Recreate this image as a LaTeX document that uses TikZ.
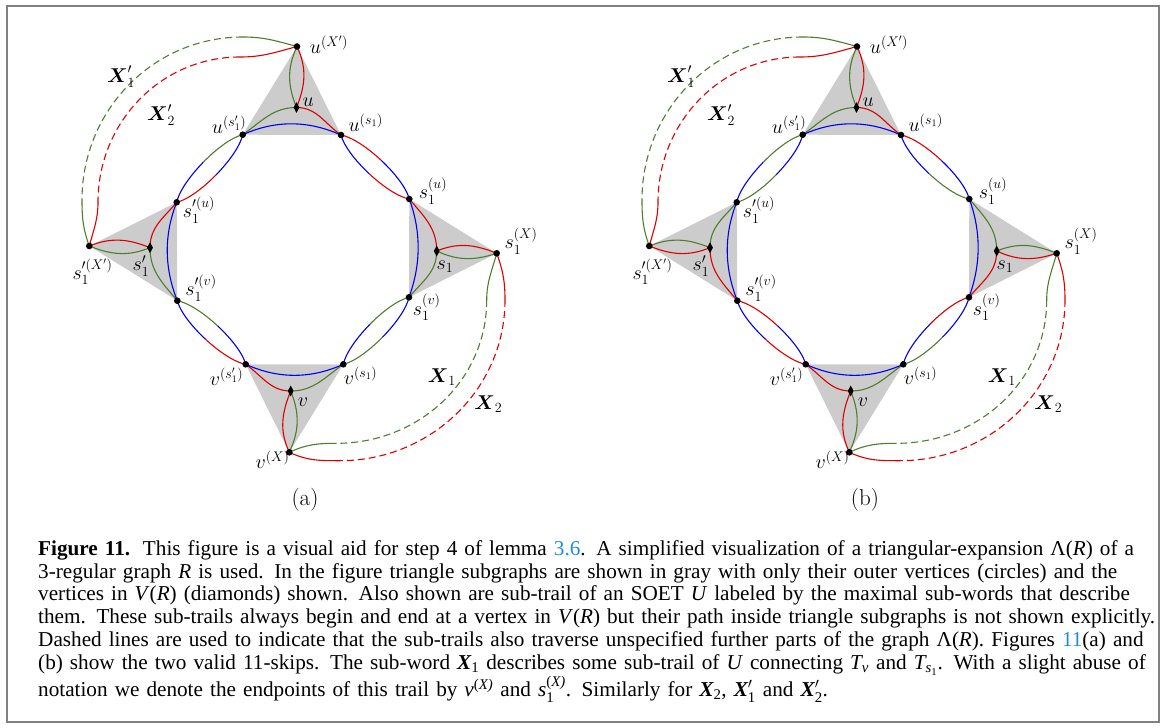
\RequirePackage{fix-cm}
\documentclass[tikz,border=0pt]{standalone}
\usepackage{amsmath}
\usepackage[no-math]{fontspec}
\usetikzlibrary{calc,shapes.geometric}
\newfontfamily\capfont{Liberation Serif}
\definecolor{tred}{RGB}{220,0,0}
\definecolor{tgreen}{RGB}{80,125,45}
\definecolor{tblue}{RGB}{0,0,235}
\definecolor{tgray}{RGB}{204,204,204}
\definecolor{linkblue}{RGB}{30,140,220}
\definecolor{framegray}{RGB}{128,128,128}
\pgfdeclarelayer{bg}
\pgfsetlayers{bg,main}
\tikzset{
  vtx/.style={circle,fill=black,inner sep=0pt,minimum size=6.6pt},
  dia/.style={diamond,fill=black,inner sep=0pt,minimum width=6pt,minimum height=11pt},
  trail/.style={line width=1.1pt},
  dsh/.style={dash pattern=on 7pt off 4pt},
  lbl/.style={font=\fontsize{20}{24}\selectfont,inner sep=0pt},
}
\newcommand\lenspath[5]{%
  \coordinate (lA) at ($(#1.center)!0.2!(#2.center)!12pt!#3:(#2.center)$);
  \coordinate (lB) at ($(#1.center)!0.8!(#2.center)!12pt!#3:(#2.center)$);
  \coordinate (m01) at ($(#1.center)!.5!(lA)$);
  \coordinate (m12) at ($(lA)!.5!(lB)$);
  \coordinate (m23) at ($(lB)!.5!(#2.center)$);
  \coordinate (m012) at ($(m01)!.5!(m12)$);
  \coordinate (m123) at ($(m12)!.5!(m23)$);
  \coordinate (mm) at ($(m012)!.5!(m123)$);
  \draw[trail,#4] (#1.center) .. controls (m01) and (m012) .. (mm);
  \draw[trail,#5] (mm) .. controls (m123) and (m23) .. (#2.center);
}
% #1 shift, #2 prefix, #3 right-top col, #4 right-bottom col, #5 left-top col, #6 left-bottom col, #7 panel label
\newcommand\drawpanel[7]{%
\begin{scope}[xshift=#1]
  \node[vtx] (#2uX) at (297,-46.5) {};
  \node[dia] (#2u) at (296.5,-107.5) {};
  \node[vtx] (#2usp) at (242.7,-134.7) {};
  \node[vtx] (#2us) at (341,-135) {};
  \node[vtx] (#2su) at (409.3,-199) {};
  \node[dia] (#2s) at (436.7,-251) {};
  \node[vtx] (#2sX) at (496.7,-253.3) {};
  \node[vtx] (#2sv) at (409,-297.3) {};
  \node[vtx] (#2vs) at (343.3,-364.3) {};
  \node[vtx] (#2vsp) at (245.7,-364.3) {};
  \node[dia] (#2v) at (290.7,-391) {};
  \node[vtx] (#2vX) at (289.3,-452.3) {};
  \node[vtx] (#2spu) at (176.7,-202.3) {};
  \node[dia] (#2sp) at (150,-247.7) {};
  \node[vtx] (#2spX) at (89.3,-246) {};
  \node[vtx] (#2spv) at (177.3,-300.7) {};
  % labels
  \node[lbl] (#2LuX) at (329,-45) {$u^{(X')}$};
  \node[lbl] (#2Lu) at (308.3,-101.7) {$u$};
  \node[lbl] (#2Lusp) at (229,-125) {$u^{(s'_1)}$};
  \node[lbl] (#2Lus) at (365.7,-122.5) {$u^{(s_1)}$};
  \node[lbl] (#2Lsu) at (433,-191) {$s_1^{(u)}$};
  \node[lbl] (#2LsX) at (521,-241) {$s_1^{(X)}$};
  \node[lbl] (#2Ls) at (445,-266.5) {$s_1$};
  \node[lbl] (#2Lsv) at (426.7,-307.5) {$s_1^{(v)}$};
  \node[lbl] (#2Lvs) at (360.5,-376) {$v^{(s_1)}$};
  \node[lbl] (#2Lv) at (303,-402) {$v$};
  \node[lbl] (#2Lvsp) at (226.5,-377) {$v^{(s'_1)}$};
  \node[lbl] (#2LvX) at (272.5,-460) {$v^{(X)}$};
  \node[lbl] (#2LspX) at (92.5,-271.7) {$s_1^{\prime(X')}$};
  \node[lbl] (#2Lsp) at (141,-266) {$s'_1$};
  \node[lbl] (#2Lspv) at (201,-288) {$s_1^{\prime(v)}$};
  \node[lbl] (#2Lspu) at (199,-210) {$s_1^{\prime(u)}$};
  \node[lbl] (#2LXpa) at (121,-76.7) {$\boldsymbol{X}'_1$};
  \node[lbl] (#2LXpb) at (161,-115) {$\boldsymbol{X}'_2$};
  \node[lbl] (#2LXa) at (441.7,-377) {$\boldsymbol{X}_1$};
  \node[lbl] (#2LXb) at (488.3,-404) {$\boldsymbol{X}_2$};
  \node[lbl,font=\fontsize{23}{27}\selectfont] (#2Lpanel) at (305,-500) {#7};
  % bend points of the long trails
  \coordinate (#2xa1) at (243,-37);
  \coordinate (#2xa2) at (82,-200);
  \coordinate (#2xb1) at (240,-57);
  \coordinate (#2xb2) at (98,-202);
  \coordinate (#2xc1) at (486.7,-300);
  \coordinate (#2xc2) at (336.7,-443.3);
  \coordinate (#2xd1) at (505,-300);
  \coordinate (#2xd2) at (340,-460.7);
  \begin{pgfonlayer}{bg}
    \fill[tgray] (#2uX.center) -- (#2usp.center) -- (#2us.center) -- cycle;
    \fill[tgray] (#2su.center) -- (#2sX.center) -- (#2sv.center) -- cycle;
    \fill[tgray] (#2vsp.center) -- (#2vs.center) -- (#2vX.center) -- cycle;
    \fill[tgray] (#2spu.center) -- (#2spX.center) -- (#2spv.center) -- cycle;
    % top triangle
    \draw[trail,tgreen] (#2usp.center) to[out=35,in=180] (#2u.center);
    \draw[trail,tred] (#2u.center) to[out=0,in=145] (#2us.center);
    \draw[trail,tgreen] (#2uX.center) to[out=-115,in=112] (#2u.center);
    \draw[trail,tred] (#2uX.center) to[out=-65,in=68] (#2u.center);
    \draw[trail,tblue] (#2usp.center) .. controls +(32.8,14.7) and +(-32.8,14.7) .. (#2us.center);
    % right triangle
    \draw[trail,#3] (#2su.center) to[out=-50,in=90] (#2s.center);
    \draw[trail,#4] (#2s.center) to[out=-90,in=50] (#2sv.center);
    \draw[trail,#3] (#2s.center) to[out=22,in=158] (#2sX.center);
    \draw[trail,#4] (#2s.center) to[out=-25,in=-162] (#2sX.center);
    \draw[trail,tblue] (#2su.center) .. controls +(12,-32.8) and +(12,32.8) .. (#2sv.center);
    % bottom triangle
    \draw[trail,tred] (#2vsp.center) to[out=-35,in=180] (#2v.center);
    \draw[trail,tgreen] (#2v.center) to[out=0,in=-145] (#2vs.center);
    \draw[trail,tred] (#2v.center) to[out=-112,in=115] (#2vX.center);
    \draw[trail,tgreen] (#2v.center) to[out=-68,in=65] (#2vX.center);
    \draw[trail,tblue] (#2vsp.center) .. controls +(32.5,-14.7) and +(-32.5,-14.7) .. (#2vs.center);
    % left triangle
    \draw[trail,#5] (#2spu.center) to[out=-130,in=90] (#2sp.center);
    \draw[trail,#6] (#2sp.center) to[out=-90,in=130] (#2spv.center);
    \draw[trail,#5] (#2sp.center) to[out=158,in=22] (#2spX.center);
    \draw[trail,#6] (#2sp.center) to[out=-158,in=-22] (#2spX.center);
    \draw[trail,tblue] (#2spu.center) .. controls +(-13,-32.8) and +(-13,32.8) .. (#2spv.center);
    % ring lenses
    \lenspath{#2us}{#2su}{90}{tred}{tblue}
    \lenspath{#2us}{#2su}{-90}{tblue}{#3}
    \lenspath{#2sv}{#2vs}{90}{tblue}{tgreen}
    \lenspath{#2sv}{#2vs}{-90}{#4}{tblue}
    \lenspath{#2vsp}{#2spv}{90}{tred}{tblue}
    \lenspath{#2vsp}{#2spv}{-90}{tblue}{#6}
    \lenspath{#2spu}{#2usp}{90}{tblue}{tgreen}
    \lenspath{#2spu}{#2usp}{-90}{#5}{tblue}
    % long trails
    \draw[trail,tgreen] (#2uX.center) to[out=165,in=0] (#2xa1);
    \draw[trail,tgreen,dsh] (#2xa1) to[out=180,in=90] (#2xa2);
    \draw[trail,tgreen] (#2xa2) to[out=-90,in=110] (#2spX.center);
    \draw[trail,tred] (#2uX.center) to[out=195,in=0] (#2xb1);
    \draw[trail,tred,dsh] (#2xb1) to[out=180,in=90] (#2xb2);
    \draw[trail,tred] (#2xb2) to[out=-90,in=75] (#2spX.center);
    \draw[trail,tgreen] (#2sX.center) to[out=-105,in=90] (#2xc1);
    \draw[trail,tgreen,dsh] (#2xc1) to[out=-90,in=0] (#2xc2);
    \draw[trail,tgreen] (#2xc2) to[out=180,in=25] (#2vX.center);
    \draw[trail,tred] (#2sX.center) to[out=-70,in=90] (#2xd1);
    \draw[trail,tred,dsh] (#2xd1) to[out=-90,in=0] (#2xd2);
    \draw[trail,tred] (#2xd2) to[out=180,in=-25] (#2vX.center);
  \end{pgfonlayer}
\end{scope}}
\begin{document}
\begin{tikzpicture}[x=1pt,y=1pt]
  \useasboundingbox (0,0) rectangle (1165,-728);
  \draw[framegray,line width=2pt] (7,-6) rectangle (1159,-722);
  \drawpanel{0}{a}{tred}{tgreen}{tred}{tgreen}{(a)}
  \drawpanel{560}{b}{tgreen}{tred}{tgreen}{tred}{(b)}
  \node[anchor=north west,inner sep=0pt,text width=1125pt,align=left,
        font=\capfont\fontsize{21.2}{22.9}\selectfont] (cap) at (38,-540) {%
\textbf{Figure 11.}\hspace{0.6em}This figure is a visual aid for step 4 of lemma {\color{linkblue}3.6}. A simplified visualization of a triangular-expansion Λ(\textit{R}) of a\\
3-regular graph \textit{R} is used. In the figure triangle subgraphs are shown in gray with only their outer vertices (circles) and the\\
vertices in \textit{V}(\textit{R}) (diamonds) shown. Also shown are sub-trail of an SOET \textit{U} labeled by the maximal sub-words that describe\\
them. These sub-trails always begin and end at a vertex in \textit{V}(\textit{R}) but their path inside triangle subgraphs is not shown explicitly.\\
Dashed lines are used to indicate that the sub-trails also traverse unspecified further parts of the graph Λ(\textit{R}). Figures {\color{linkblue}11}(a) and\\
(b) show the two valid 11-skips. The sub-word $\text{\bfseries\itshape X}_{\text{1}}$ describes some sub-trail of \textit{U} connecting $\text{\itshape T}_{\text{\itshape v}}$ and $\text{\itshape T}_{\text{\itshape s}_{\text{1}}}$. With a slight abuse of\\
notation we denote the endpoints of this trail by $\text{\itshape v}^{\text{(\itshape X)}}$ and $\text{\itshape s}_{\text{1}}^{\text{(\itshape X)}}$. Similarly for $\text{\bfseries\itshape X}_{\text{2}}$, $\text{\bfseries\itshape X}_{\text{1}}^{\prime}$ and $\text{\bfseries\itshape X}_{\text{2}}^{\prime}$.};
\end{tikzpicture}
\end{document}
